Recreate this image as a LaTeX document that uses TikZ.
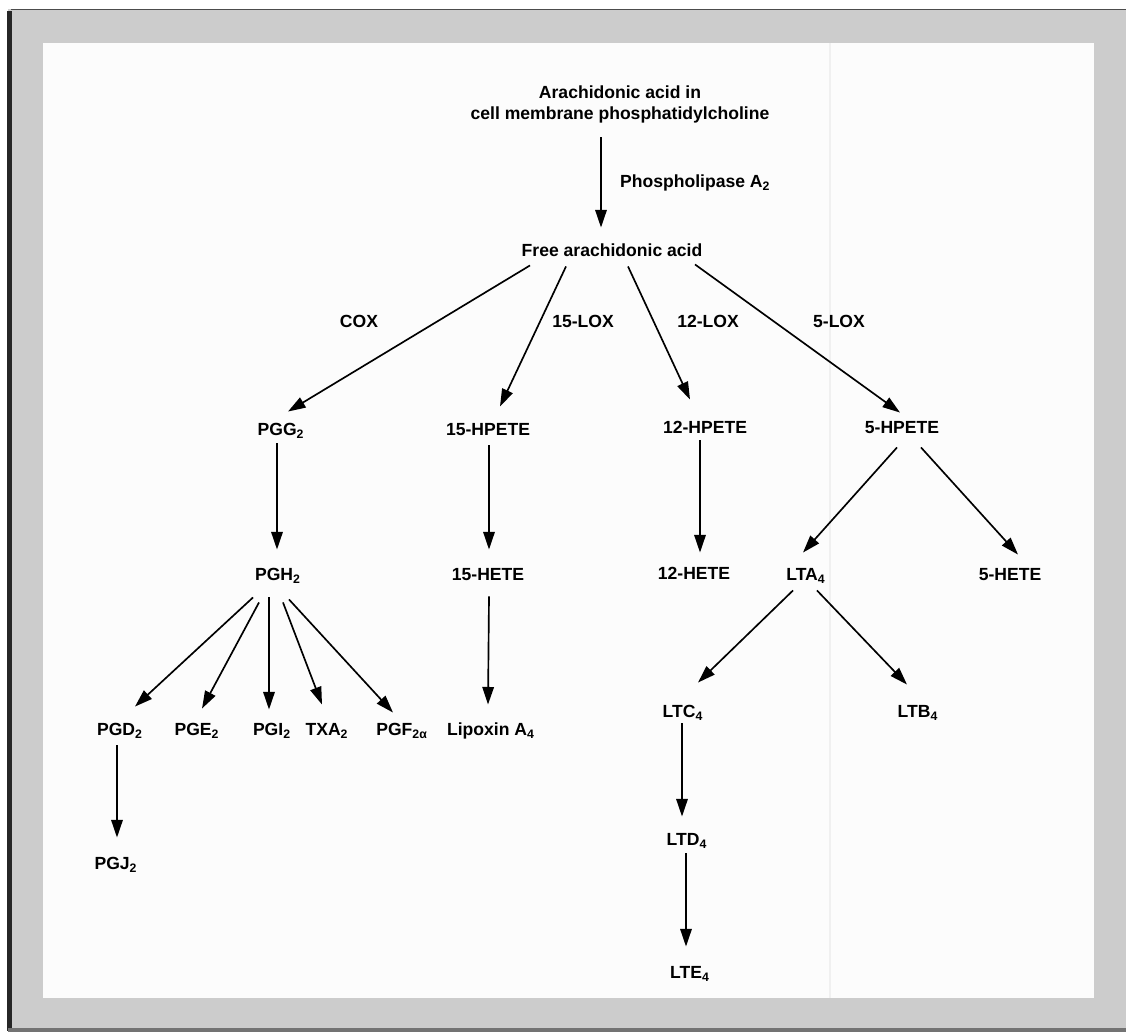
\documentclass[tikz,border=0pt]{standalone}
\usepackage{fontspec}
\setmainfont{Liberation Sans}
\usetikzlibrary{arrows.meta}

\begin{document}
\begin{tikzpicture}[x=0.02cm,y=-0.02cm,
    lbl/.style={font=\bfseries, inner sep=1pt, text height=7.5pt, text depth=2pt},
    arr/.style={-{Triangle[length=10pt,width=6.5pt]}, line width=0.95pt}]

\def\FRAMECOLOR{black!20}
	\useasboundingbox (0,0) rectangle (1126,1034);
	% frame
	\fill[\FRAMECOLOR] (8,9) rectangle (1126,1032);
	\fill[black!85] (7,11) rectangle (12,1031);
	\draw[black!70, line width=0.5pt] (11,9) -- (1126,9);
	\fill[black!55] (8,1028) rectangle (1126,1032);
	\fill[black!1] (43,43) rectangle (1094,998);
	\draw[black!6, line width=1pt] (830,43) -- (830,998);

	% top of the pathway
	\node[font=\bfseries, align=center, inner sep=1pt] (top) at (620,104)
		{Arachidonic acid in\\cell membrane phosphatidylcholine};
	\node[lbl] (free) at (612,252) {Free arachidonic acid};
	\node[lbl, anchor=west] (pla) at (618,183) {Phospholipase A\textsubscript{2}};
	\node[lbl] (cox) at (359,323) {COX};
	\node[lbl] (lox15) at (583,323) {15-LOX};
	\node[lbl] (lox12) at (708,323) {12-LOX};
	\node[lbl] (lox5) at (839,323) {5-LOX};

	% products
	\node[lbl] (pgg) at (281,431) {PGG\textsubscript{2}};
	\node[lbl] (hpete15) at (488,431) {15-HPETE};
	\node[lbl] (hpete12) at (705,429) {12-HPETE};
	\node[lbl] (hpete5) at (902,429) {5-HPETE};
	\node[lbl] (pgh) at (278,576) {PGH\textsubscript{2}};
	\node[lbl] (hete15) at (488,576) {15-HETE};
	\node[lbl] (hete12) at (694,575) {12-HETE};
	\node[lbl] (lta) at (806,576) {LTA\textsubscript{4}};
	\node[lbl] (hete5) at (1010,576) {5-HETE};
	\node[lbl] (pgd) at (120,731) {PGD\textsubscript{2}};
	\node[lbl] (pge) at (197,731) {PGE\textsubscript{2}};
	\node[lbl] (pgi) at (272,731) {PGI\textsubscript{2}};
	\node[lbl] (txa) at (327,731) {TXA\textsubscript{2}};
	\node[lbl] (pgf) at (402,731) {PGF\textsubscript{2α}};
	\node[lbl] (lipox) at (491,731) {Lipoxin A\textsubscript{4}};
	\node[lbl] (ltc) at (683,713) {LTC\textsubscript{4}};
	\node[lbl] (ltb) at (918,713) {LTB\textsubscript{4}};
	\node[lbl] (pgj) at (116,865) {PGJ\textsubscript{2}};
	\node[lbl] (ltd) at (687,841) {LTD\textsubscript{4}};
	\node[lbl] (lte) at (690,974) {LTE\textsubscript{4}};

	% arrows
	\draw[arr] ([shift={(-19,12.5)}]top.south) -- ([shift={(-11,-14)}]free.north);
	\draw[arr] ([shift={(-82,3)}]free.south) -- ([shift={(7,-9)}]pgg.north);
	\draw[arr] ([shift={(-46,4)}]free.south) -- ([shift={(12,-14)}]hpete15.north);
	\draw[arr] ([shift={(16,4)}]free.south) -- ([shift={(-15,-19)}]hpete12.north);
	\draw[arr] ([shift={(83,2)}]free.south) -- ([shift={(-2,-6)}]hpete5.north);
	\draw[arr] ([shift={(-4,2)}]pgg.south) -- ([shift={(-1,-16)}]pgh.north);
	\draw[arr] ([shift={(1,4)}]hpete15.south) -- ([shift={(1,-16)}]hete15.north);
	\draw[arr] ([shift={(1,10)}]hete15.south) -- ([shift={(-3,-16)}]lipox.north);
	\draw[arr] ([shift={(-5,1)}]hpete12.south) -- ([shift={(6,-12)}]hete12.north);
	\draw[arr] ([shift={(-5,8)}]hpete5.south) -- ([shift={(-3,-13)}]lta.north);
	\draw[arr] ([shift={(19,8)}]hpete5.south) -- ([shift={(8,-11)}]hete5.north);
	\draw[arr] ([shift={(-13,4)}]lta.south) -- ([shift={(15,-20)}]ltc.north);
	\draw[arr] ([shift={(11,4)}]lta.south) -- ([shift={(-11,-18)}]ltb.north);
	\draw[arr] ([shift={(-1,0)}]ltc.south) -- ([shift={(-5,-14)}]ltd.north);
	\draw[arr] ([shift={(-1,2)}]ltd.south) -- ([shift={(-4,-17)}]lte.north);
	\draw[arr] ([shift={(-25,11)}]pgh.south) -- ([shift={(15,-14)}]pgd.north);
	\draw[arr] ([shift={(-19,16)}]pgh.south) -- ([shift={(5,-12)}]pge.north);
	\draw[arr] ([shift={(-9,11)}]pgh.south) -- ([shift={(-3,-11)}]pgi.north);
	\draw[arr] ([shift={(5,16)}]pgh.south) -- ([shift={(-5,-16)}]txa.north);
	\draw[arr] ([shift={(11,13)}]pgh.south) -- ([shift={(-9,-8)}]pgf.north);
	\draw[arr] ([shift={(-3,4)}]pgd.south) -- ([shift={(1,-17)}]pgj.north);

\end{tikzpicture}
\end{document}
